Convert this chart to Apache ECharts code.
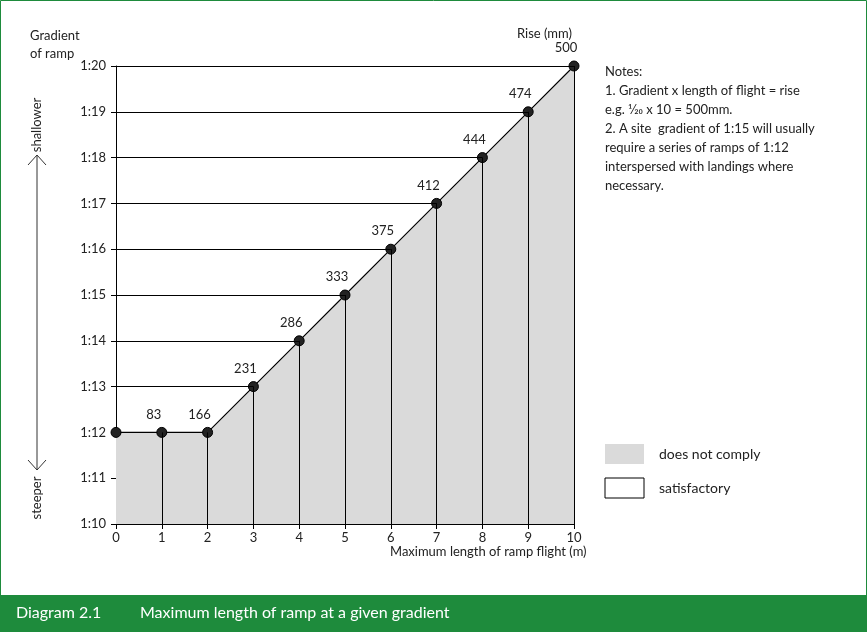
<!DOCTYPE html>
<html><head><meta charset="utf-8">
<script src="https://cdn.jsdelivr.net/npm/echarts@6/dist/echarts.min.js"></script>
<style>html,body{margin:0;padding:0;background:#fff}#c{width:867px;height:632px}</style>
</head><body><div id="c"></div>
<script>
const lengths = [0,1,2,3,4,5,6,7,8,9,10];
const gradients = [12,12,12,13,14,15,16,17,18,19,20];
const rises = ["","83","166","231","286","333","375","412","444","474","500"];
const yTicks = ["1:10","1:11","1:12","1:13","1:14","1:15","1:16","1:17","1:18","1:19","1:20"];
const F = "Lato, 'Open Sans', sans-serif";
const chart = echarts.init(document.getElementById('c'));
const pts = lengths.map((x,i)=>[x,gradients[i]]);
const mlData = [];
lengths.forEach((x,i)=>{
  if (i>0) mlData.push([{coord:[x,10]},{coord:[x,gradients[i]]}]);
  if (gradients[i]>12) mlData.push([{coord:[0,gradients[i]]},{coord:[x,gradients[i]]}]);
});
chart.setOption({
  animation:false,
  grid:{left:116,right:293,top:66,bottom:108},
  xAxis:{type:'value',min:0,max:10,interval:1,
    axisLine:{lineStyle:{color:'#000'}},axisTick:{length:5,lineStyle:{color:'#000'}},
    axisLabel:{color:'#222',fontFamily:F,fontSize:13,margin:7},splitLine:{show:false}},
  yAxis:{type:'value',min:10,max:20,interval:1,
    axisLine:{show:true,lineStyle:{color:'#000'}},axisTick:{show:true,length:5,lineStyle:{color:'#000'}},
    axisLabel:{color:'#222',fontFamily:F,fontSize:13,margin:10,formatter:v=>yTicks[v-10]},splitLine:{show:false}},
  series:[{
    type:'line',data:pts,symbol:'circle',symbolSize:10,
    itemStyle:{color:'#222',borderColor:'#000',borderWidth:1},
    lineStyle:{color:'#000',width:1.2},
    areaStyle:{color:'#dadada',opacity:1},
    label:{show:true,position:'top',distance:6,color:'#222',fontFamily:F,fontSize:13,
      offset:[-8,0],formatter:p=>rises[p.dataIndex]},
    markLine:{silent:true,symbol:'none',label:{show:false},lineStyle:{color:'#000',width:1,type:'solid'},data:mlData}
  }],
  graphic:[
    {type:'rect',shape:{x:0.5,y:0.5,width:866,height:631},style:{fill:'none',stroke:'#1e8b3c',lineWidth:1}},
    {type:'rect',shape:{x:0,y:595,width:867,height:37},style:{fill:'#1e8b3c'}},
    {type:'text',x:16,y:613,style:{text:'Diagram 2.1',fill:'#fff',font:'16px '+F,textVerticalAlign:'middle'}},
    {type:'text',x:140,y:613,style:{text:'Maximum length of ramp at a given gradient',fill:'#fff',font:'16px '+F,textVerticalAlign:'middle'}},
    {type:'text',x:30,y:27,style:{text:'Gradient\nof ramp',fill:'#222',font:'13px '+F,lineHeight:18}},
    {type:'text',x:517,y:27,style:{text:'Rise (mm)',fill:'#222',font:'13px '+F}},
    {type:'text',x:390,y:545,style:{text:'Maximum length of ramp flight (m)',fill:'#222',font:'13px '+F}},
    {type:'text',x:605,y:62,style:{text:'Notes:\n1. Gradient x length of flight = rise\ne.g. 1⁄20 x 10 = 500mm.\n2. A site  gradient of 1:15 will usually\nrequire a series of ramps of 1:12\ninterspersed with landings where\nnecessary.',fill:'#222',font:'13px '+F,lineHeight:19}},
    {type:'line',shape:{x1:37,y1:155,x2:37,y2:470},style:{stroke:'#333',lineWidth:1}},
    {type:'polyline',shape:{points:[[28,165],[37,155],[46,165]]},style:{stroke:'#333',fill:'none',lineWidth:1}},
    {type:'polyline',shape:{points:[[28,460],[37,470],[46,460]]},style:{stroke:'#333',fill:'none',lineWidth:1}},
    {type:'text',x:37,y:125,rotation:Math.PI/2,style:{text:'shallower',fill:'#222',font:'13px '+F,textAlign:'center',textVerticalAlign:'middle'}},
    {type:'text',x:37,y:498,rotation:Math.PI/2,style:{text:'steeper',fill:'#222',font:'13px '+F,textAlign:'center',textVerticalAlign:'middle'}},
    {type:'rect',shape:{x:605,y:444,width:39,height:20},style:{fill:'#dadada'}},
    {type:'text',x:659,y:454,style:{text:'does not comply',fill:'#222',font:'14px '+F,textVerticalAlign:'middle'}},
    {type:'rect',shape:{x:605,y:478,width:39,height:20},style:{fill:'#fff',stroke:'#000',lineWidth:1}},
    {type:'text',x:659,y:488,style:{text:'satisfactory',fill:'#222',font:'14px '+F,textVerticalAlign:'middle'}}
  ]
});
</script></body></html>
